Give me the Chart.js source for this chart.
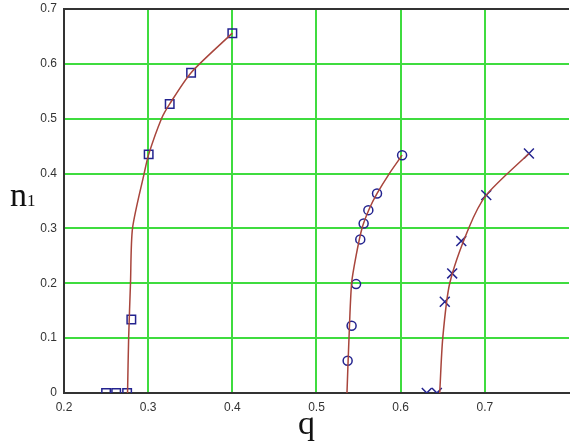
<!DOCTYPE html>
<html>
<head>
<meta charset="utf-8">
<script src="https://cdn.jsdelivr.net/npm/chart.js@4"></script>
<style>
  html, body { margin: 0; padding: 0; background: #fff; }
  #wrap { position: relative; width: 570px; height: 445px; }
  .ttl { position: absolute; font-family: "Liberation Serif", "DejaVu Serif", serif; color: #111; line-height: 1; }
</style>
</head>
<body>
<div id="wrap">
  <canvas id="chart" width="570" height="445"></canvas>
  <div class="ttl" style="left:10px; top:178px; font-size:34px;">n<span style="font-size:17px;">1</span></div>
  <div class="ttl" style="left:298px; top:406px; font-size:34px;">q</div>
</div>
<script>
// tick labels
const qTicks = [0.2, 0.3, 0.4, 0.5, 0.6, 0.7];
const nTicks = [0, 0.1, 0.2, 0.3, 0.4, 0.5, 0.6, 0.7];

// squares + their fitted curve
const sqQ = [0.25, 0.262, 0.275, 0.280, 0.3006, 0.3256, 0.351, 0.400];
const sqN = [0, 0, 0, 0.134, 0.435, 0.527, 0.584, 0.656];
const fit1Q = [0.2755, 0.2768, 0.279, 0.2814, 0.2952, 0.3006, 0.3158, 0.3256, 0.351, 0.400];
const fit1N = [0, 0.1, 0.2, 0.3, 0.4, 0.435, 0.5, 0.527, 0.584, 0.656];

// circles + curve
const ciQ = [0.537, 0.5417, 0.547, 0.552, 0.556, 0.5616, 0.5719, 0.6017];
const ciN = [0.0588, 0.1226, 0.1985, 0.280, 0.309, 0.3333, 0.3637, 0.4335];
const fit2Q = [0.5362, 0.5386, 0.5417, 0.547, 0.554, 0.5625, 0.572, 0.5865, 0.6017];
const fit2N = [0, 0.1, 0.2, 0.25, 0.3, 0.335, 0.3637, 0.4, 0.4335];

// crosses + curve
const crQ = [0.631, 0.643, 0.6524, 0.6612, 0.672, 0.7017, 0.7524];
const crN = [0, 0, 0.1663, 0.218, 0.277, 0.3607, 0.4366];
const fit3Q = [0.6464, 0.650, 0.6583, 0.6807, 0.7017, 0.7524];
const fit3N = [0, 0.1, 0.2, 0.3, 0.3607, 0.4366];

const pts = (xs, ys) => xs.map((x, i) => ({ x: x, y: ys[i] }));

const curveColor = "#a8453c";
const markColor = "#23238f";
const gridGreen = "#3fdc3f";

function curve(xs, ys) {
  return {
    data: pts(xs, ys),
    showLine: true,
    borderColor: curveColor,
    borderWidth: 1.5,
    pointRadius: 0,
    tension: 0.25,
    fill: false,
  };
}

function marks(xs, ys, style, r) {
  return {
    data: pts(xs, ys),
    showLine: false,
    pointStyle: style,
    pointRadius: r,
    pointBorderColor: markColor,
    pointBackgroundColor: "rgba(0,0,0,0)",
    pointBorderWidth: 1.5,
  };
}

document.addEventListener("DOMContentLoaded", () => {
  const ctx = document.getElementById("chart").getContext("2d");

  new Chart(ctx, {
    type: "scatter",
    data: {
      datasets: [
        curve(fit1Q, fit1N),
        curve(fit2Q, fit2N),
        curve(fit3Q, fit3N),
        marks(sqQ, sqN, "rect", 6),
        marks(ciQ, ciN, "circle", 4.5),
        marks(crQ, crN, "crossRot", 7),
      ],
    },
    options: {
      responsive: false,
      animation: false,
      layout: { autoPadding: false, padding: { top: 9, right: 1, left: 0, bottom: 0 } },
      plugins: {
        legend: { display: false },
        tooltip: { enabled: false },
      },
      scales: {
        x: {
          type: "linear",
          min: 0.2,
          max: 0.8,
          afterBuildTicks: (axis) => {
            axis.ticks = qTicks.map((v) => ({ value: v }));
          },
          afterFit: (axis) => {
            axis.height = 52;
            axis.paddingLeft = 0;
            axis.paddingRight = 0;
          },
          ticks: {
            padding: 7,
            color: "#333",
            font: { family: "Liberation Sans", size: 12 },
            callback: (v) => String(Math.round(v * 10) / 10),
          },
          grid: {
            drawTicks: false,
            lineWidth: 2,
            color: gridGreen,
          },
          border: { display: true, color: "#333", width: 2 },
        },
        y: {
          type: "linear",
          min: 0,
          max: 0.7,
          afterBuildTicks: (axis) => {
            axis.ticks = nTicks.map((v) => ({ value: v }));
          },
          afterFit: (axis) => {
            axis.width = 64;
            axis.paddingTop = 0;
            axis.paddingBottom = 0;
          },
          ticks: {
            padding: 7,
            color: "#333",
            font: { family: "Liberation Sans", size: 12 },
            callback: (v) => String(Math.round(v * 10) / 10),
          },
          grid: {
            drawTicks: false,
            lineWidth: 2,
            color: (c) => (c.tick && Math.abs(c.tick.value - 0.7) < 1e-9 ? "#333" : gridGreen),
          },
          border: { display: true, color: "#333", width: 2 },
        },
      },
    },
  });
});
</script>
</body>
</html>
